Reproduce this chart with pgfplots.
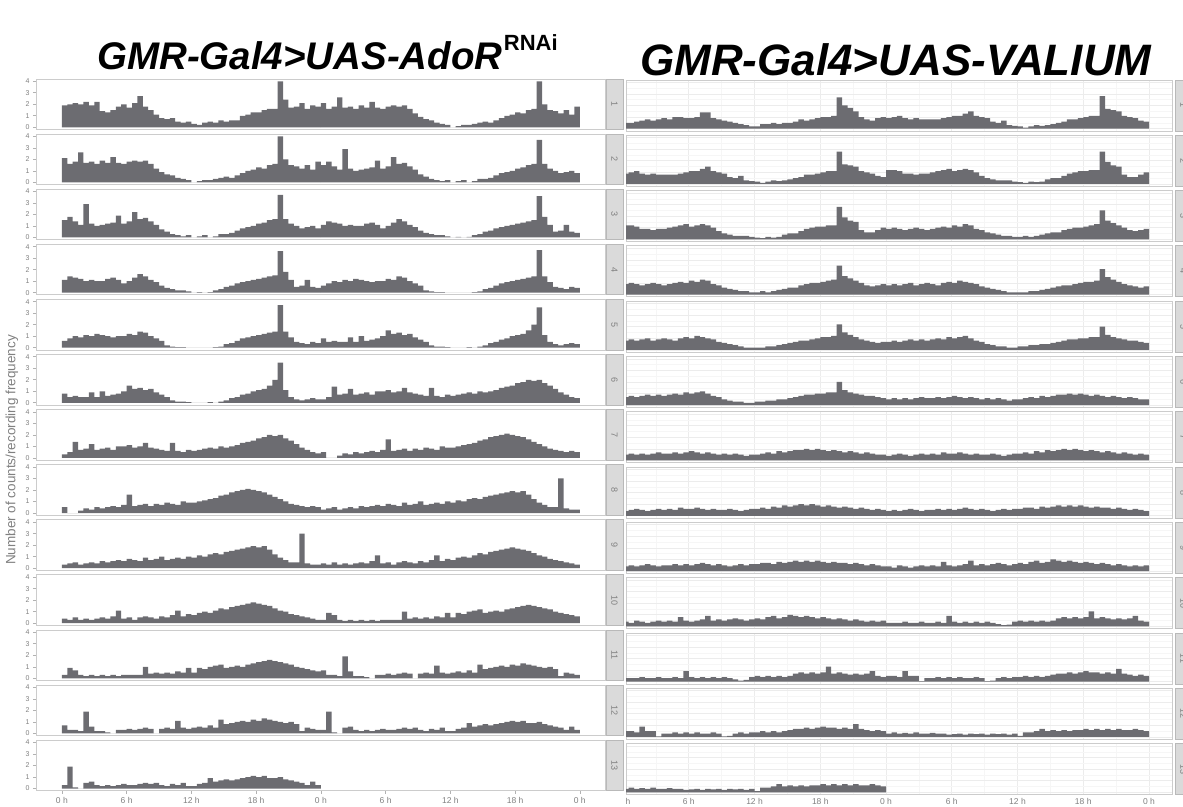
\documentclass[border=0pt]{standalone}
\usepackage{pgfplots}
\usepackage{pgfplotstable}
\pgfplotsset{compat=1.18}
\usepackage{fontspec}
\setmainfont{Liberation Sans}

\definecolor{barcol}{RGB}{108,108,113}
\definecolor{stripfill}{RGB}{218,218,218}
\definecolor{stripline}{RGB}{185,185,185}
\definecolor{labgray}{RGB}{128,128,128}

% one row per day, 30-min bins (last entry closes the day at 24 h)
\pgfplotstableread[header=false]{
t 0 0.5 1 1.5 2 2.5 3 3.5 4 4.5 5 5.5 6 6.5 7 7.5 8 8.5 9 9.5 10 10.5 11 11.5 12 12.5 13 13.5 14 14.5 15 15.5 16 16.5 17 17.5 18 18.5 19 19.5 20 20.5 21 21.5 22 22.5 23 23.5 24
u 24 24.5 25 25.5 26 26.5 27 27.5 28 28.5 29 29.5 30 30.5 31 31.5 32 32.5 33 33.5 34 34.5 35 35.5 36 36.5 37 37.5 38 38.5 39 39.5 40 40.5 41 41.5 42 42.5 43 43.5 44 44.5 45 45.5 46 46.5 47 47.5 48
d1 1.9 2.0 2.1 2.0 2.2 1.9 2.2 1.4 1.3 1.5 1.8 2.0 1.7 2.1 2.7 1.8 1.5 1.1 0.8 0.7 0.8 0.5 0.4 0.5 0.3 0.2 0.4 0.5 0.4 0.6 0.5 0.6 0.6 1.0 1.1 1.3 1.3 1.5 1.6 1.6 4.0 2.4 1.7 1.8 2.1 1.6 1.9 1.8 0
d2 2.1 1.6 1.8 2.6 1.7 1.8 1.6 1.9 1.7 2.2 1.7 1.6 1.8 1.9 1.8 1.9 1.6 1.2 0.9 0.7 0.6 0.4 0.3 0.2 0 0.1 0.2 0.2 0.3 0.4 0.5 0.4 0.6 0.8 1.0 1.1 1.3 1.2 1.5 1.6 4.0 2.0 1.5 1.4 1.2 1.5 1.1 1.8 0
d3 1.5 1.8 1.4 1.1 2.9 1.2 1.0 1.1 1.2 1.3 1.9 1.2 1.4 2.2 1.6 1.7 1.4 1.1 0.7 0.5 0.3 0.2 0.1 0.2 0 0.1 0.2 0 0.1 0.3 0.3 0.4 0.6 0.8 0.9 1.0 1.2 1.3 1.5 1.6 3.7 1.6 1.2 1.0 0.8 0.9 1.0 0.8 0
d4 1.1 1.4 1.3 1.2 1.0 1.1 1.0 1.0 1.2 1.3 1.1 0.8 1.0 1.3 1.6 1.4 1.1 0.9 0.6 0.4 0.3 0.2 0.2 0.1 0 0.05 0 0.05 0.2 0.3 0.5 0.6 0.8 0.9 1.0 1.1 1.2 1.3 1.4 1.5 3.6 1.8 1.1 0.5 0.6 1.1 0.5 0.4 0
d5 0.6 0.8 1.0 0.9 1.1 1.0 1.2 1.1 1.0 0.9 1.0 1.0 1.2 1.1 1.4 1.3 1.0 0.8 0.6 0.2 0.1 0.05 0.05 0 0 0 0 0 0.05 0.1 0.3 0.4 0.6 0.8 0.9 1.0 1.1 1.2 1.3 1.4 3.7 1.4 0.9 0.5 0.4 0.3 0.5 0.4 0
d6 0.8 0.5 0.6 0.5 0.5 0.9 0.5 1.0 0.6 0.7 0.8 1.0 1.5 1.2 1.3 1.1 1.2 0.9 0.7 0.5 0.2 0.1 0.1 0.05 0 0 0 0.05 0 0.1 0.2 0.4 0.5 0.7 0.8 1.0 1.1 1.2 1.5 2.0 3.5 1.1 0.5 0.3 0.2 0.3 0.4 0.3 0
d7 0.3 0.5 1.4 0.7 0.8 1.2 0.7 0.8 0.9 0.7 1.0 1.0 1.1 0.9 1.0 1.3 0.9 0.8 0.7 0.6 1.3 0.6 0.5 0.7 0.6 0.7 0.8 0.9 0.8 1.0 0.9 1.0 1.1 1.3 1.4 1.5 1.7 1.8 2.0 1.9 2.0 1.7 1.5 1.2 0.9 0.7 0.5 0.4 0
d8 0.5 0 0 0.2 0.4 0.3 0.5 0.4 0.5 0.6 0.5 0.7 1.6 0.6 0.7 0.8 0.6 0.8 0.7 0.9 0.8 0.7 1.0 0.9 0.9 1.0 1.1 1.2 1.3 1.5 1.6 1.8 1.9 2.0 2.1 2.0 1.9 1.8 1.6 1.4 1.2 1.0 0.8 0.7 0.6 0.5 0.6 0.5 0
d9 0.3 0.4 0.5 0.3 0.4 0.5 0.4 0.6 0.5 0.6 0.7 0.6 0.8 0.7 0.6 0.9 0.7 0.8 1.0 0.7 0.8 0.9 0.8 1.0 0.9 1.1 1.0 1.2 1.3 1.2 1.4 1.5 1.6 1.7 1.8 1.9 1.8 1.9 1.6 1.2 0.9 0.7 0.5 0.5 3.0 0.4 0.3 0.3 0
d10 0.4 0.3 0.5 0.3 0.4 0.3 0.4 0.5 0.4 0.6 1.1 0.4 0.5 0.3 0.5 0.6 0.5 0.4 0.6 0.5 0.7 1.1 0.6 0.8 0.7 0.9 1.0 0.9 1.1 1.3 1.2 1.4 1.5 1.6 1.7 1.8 1.7 1.6 1.5 1.3 1.1 1.0 0.8 0.7 0.6 0.5 0.4 0.3 0
d11 0.3 0.9 0.7 0.3 0.2 0.3 0.2 0.3 0.2 0.3 0.2 0.3 0.3 0.3 0.3 1.0 0.4 0.5 0.4 0.5 0.4 0.6 0.5 0.9 0.5 0.9 0.8 1.0 1.1 1.2 0.9 1.0 1.1 1.0 1.2 1.3 1.4 1.5 1.6 1.5 1.4 1.3 1.2 1.0 0.9 0.8 0.7 0.6 0
d12 0.7 0.3 0.3 0.2 1.9 0.6 0.2 0.2 0.1 0 0.3 0.3 0.4 0.3 0.4 0.5 0.4 0 0.4 0.5 0.4 1.1 0.5 0.4 0.5 0.6 0.5 0.7 0.5 1.2 0.8 0.9 1.0 1.1 1.0 1.2 1.1 1.3 1.2 1.1 1.0 0.9 1.0 0.8 0.2 0.5 0.4 0.3 0
d13 0.3 1.9 0.1 0 0.5 0.6 0.3 0.2 0.3 0.2 0.3 0.4 0.3 0.3 0.4 0.5 0.4 0.5 0.3 0.2 0.4 0.3 0.5 0.2 0.2 0.4 0.5 0.9 0.6 0.7 0.8 0.7 0.8 0.9 1.0 1.1 1.0 1.1 0.9 0.9 1.0 0.8 0.7 0.6 0.5 0.3 0.6 0.3 0
}\adorraw
\pgfplotstabletranspose[colnames from=0]\ador\adorraw

\pgfplotstableread[header=false]{
t 0 0.5 1 1.5 2 2.5 3 3.5 4 4.5 5 5.5 6 6.5 7 7.5 8 8.5 9 9.5 10 10.5 11 11.5 12 12.5 13 13.5 14 14.5 15 15.5 16 16.5 17 17.5 18 18.5 19 19.5 20 20.5 21 21.5 22 22.5 23 23.5 24
u 24 24.5 25 25.5 26 26.5 27 27.5 28 28.5 29 29.5 30 30.5 31 31.5 32 32.5 33 33.5 34 34.5 35 35.5 36 36.5 37 37.5 38 38.5 39 39.5 40 40.5 41 41.5 42 42.5 43 43.5 44 44.5 45 45.5 46 46.5 47 47.5 48
d1 0.5 0.5 0.6 0.7 0.8 0.7 0.8 0.9 0.8 1.0 1.0 0.9 0.9 1.0 1.4 1.4 0.9 0.8 0.7 0.6 0.5 0.4 0.3 0.2 0.2 0.4 0.4 0.5 0.4 0.5 0.5 0.6 0.8 0.7 0.8 0.9 1.0 1.0 1.1 2.7 2.0 1.8 1.5 1.0 0.8 0.7 0.9 1.0 0
d2 0.9 1.0 1.1 0.9 0.8 0.9 0.8 0.8 0.8 0.8 0.9 1.0 1.1 1.1 1.3 1.5 1.1 1.0 0.9 0.6 0.5 0.7 0.3 0.25 0.2 0.1 0.2 0.3 0.25 0.3 0.4 0.5 0.6 0.8 0.8 0.9 1.0 1.1 1.1 2.8 1.7 1.6 1.5 1.1 1.0 0.9 0.7 0.6 0
d3 1.2 1.2 1.1 0.9 0.9 0.8 0.9 0.9 1.0 1.1 1.2 1.3 1.1 1.2 1.3 1.2 1.0 0.7 0.5 0.4 0.3 0.3 0.3 0.2 0.15 0.1 0.2 0.15 0.2 0.4 0.5 0.5 0.7 0.9 1.0 1.1 1.1 1.2 1.2 2.8 1.9 1.6 1.5 0.8 0.6 0.6 0.8 1.0 0
d4 0.9 1.0 0.9 0.8 0.9 1.0 0.9 0.8 0.9 1.0 1.1 1.0 1.2 1.1 1.3 1.2 0.9 0.8 0.6 0.5 0.4 0.3 0.3 0.2 0.2 0.3 0.2 0.3 0.4 0.5 0.6 0.6 0.8 0.9 1.0 1.0 1.1 1.2 1.3 2.5 1.6 1.4 1.2 1.0 0.8 0.7 0.8 0.9 0
d5 0.8 0.9 0.8 0.9 1.0 0.8 0.9 1.0 0.9 0.8 1.0 1.1 1.0 1.2 1.1 1.0 0.9 0.7 0.6 0.5 0.4 0.3 0.2 0.2 0.2 0.2 0.3 0.3 0.4 0.5 0.6 0.7 0.8 0.8 0.9 1.0 1.1 1.1 1.2 2.2 1.5 1.3 1.1 0.9 0.8 0.7 0.6 0.7 0
d6 0.7 0.8 0.7 0.8 0.9 0.8 0.9 0.8 0.9 1.0 0.9 1.1 1.0 1.1 1.2 1.0 0.8 0.7 0.5 0.4 0.3 0.3 0.2 0.2 0.3 0.3 0.4 0.4 0.5 0.5 0.6 0.7 0.8 0.9 0.9 1.0 1.0 1.1 1.1 2.0 1.3 1.1 1.0 0.9 0.8 0.8 0.7 0.6 0
d7 0.5 0.6 0.5 0.6 0.5 0.6 0.7 0.6 0.6 0.7 0.6 0.7 0.8 0.7 0.6 0.7 0.6 0.5 0.6 0.5 0.6 0.5 0.4 0.5 0.5 0.6 0.7 0.6 0.8 0.7 0.8 0.9 0.9 1.0 0.9 1.0 0.9 0.8 0.9 0.8 0.7 0.8 0.7 0.6 0.7 0.6 0.5 0.5 0
d8 0.4 0.5 0.6 0.5 0.4 0.5 0.6 0.5 0.6 0.5 0.7 0.6 0.6 0.7 0.6 0.5 0.6 0.5 0.5 0.6 0.5 0.4 0.5 0.6 0.6 0.7 0.6 0.8 0.7 0.9 0.8 0.9 1.0 0.9 1.0 0.9 0.8 0.9 0.8 0.7 0.8 0.7 0.6 0.7 0.6 0.5 0.6 0.5 0
d9 0.4 0.5 0.4 0.5 0.6 0.5 0.4 0.5 0.5 0.6 0.5 0.6 0.5 0.6 0.7 0.6 0.5 0.6 0.5 0.4 0.5 0.6 0.5 0.6 0.6 0.7 0.7 0.6 0.8 0.7 0.8 0.9 0.8 0.9 0.8 0.9 0.8 0.7 0.8 0.7 0.7 0.6 0.7 0.6 0.5 0.6 0.5 0.4 0
d10 0.4 0.3 0.5 0.4 0.3 0.4 0.5 0.4 0.5 0.4 0.8 0.5 0.4 0.5 0.6 0.9 0.5 0.6 0.5 0.6 0.7 0.6 0.5 0.6 0.7 0.6 0.8 0.9 0.7 0.8 1.0 0.9 0.8 0.9 0.8 0.7 0.8 0.7 0.6 0.7 0.6 0.5 0.6 0.5 0.4 0.5 0.4 0.5 0
d11 0.3 0.3 0.3 0.4 0.3 0.3 0.4 0.3 0.3 0.4 0.3 0.9 0.4 0.3 0.4 0.3 0.4 0.3 0.4 0.3 0.2 0.1 0.15 0.4 0.5 0.4 0.5 0.4 0.5 0.4 0.5 0.7 0.8 0.7 0.8 0.7 0.8 1.3 0.7 0.8 0.7 0.6 0.7 0.6 0.7 0.9 0.5 0.4 0
d12 0.5 0.5 0.4 0.9 0.5 0.5 0.05 0.3 0.3 0.4 0.3 0.4 0.3 0.4 0.3 0.3 0.4 0.3 0.05 0.1 0.3 0.4 0.3 0.4 0.4 0.5 0.4 0.5 0.4 0.5 0.6 0.7 0.7 0.8 0.7 0.8 0.9 0.8 0.8 0.7 0.8 0.7 1.1 0.7 0.6 0.5 0.6 0.5 0
d13 0.3 0.4 0.3 0.35 0.3 0.4 0.3 0.3 0.35 0.3 0.3 0.2 0.25 0.3 0.2 0.3 0.25 0.3 0.2 0.3 0.25 0.3 0.2 0.3 0.1 0.4 0.4 0.5 0.7 0.5 0.6 0.5 0.6 0.5 0.6 0.6 0.7 0.6 0.7 0.6 0.7 0.6 0.7 0.6 0.6 0.7 0.6 0.5 0
}\valraw
\pgfplotstabletranspose[colnames from=0]\valium\valraw

\pgfplotsset{
  barplot/.style={const plot mark left, fill=barcol, draw=none, mark=none},
  actoL/.style={
    scale only axis, width=569.7pt, height=50.6pt,
    xmin=-2.4, xmax=50.4, ymin=-0.2, ymax=4.2,
    xtick={0,6,...,48}, ytick={0,1,2,3,4},
    tick align=outside, tick pos=left,
    major tick length=3pt,
    axis line style={draw=gray!40, line width=0.8pt},
    tick style={draw=gray!60, line width=0.6pt},
    /pgf/number format/assume math mode=true,
    yticklabel style={font=\fontsize{7}{7}\selectfont, text=labgray},
    xticklabel style={font=\fontsize{8.5}{8.5}\selectfont, text=labgray},
  },
  actoR/.style={
    scale only axis, width=546pt, height=51pt,
    xmin=0.27, xmax=50.1, ymin=-0.2, ymax=4.2,
    xtick={0,6,...,48}, minor xtick={3,9,...,45},
    ytick={0,1,2,3,4}, minor ytick={0.5,1.5,2.5,3.5},
    grid=both,
    major grid style={draw=gray!15, line width=0.6pt},
    minor grid style={draw=gray!7, line width=0.4pt},
    major tick length=0pt, minor tick length=0pt,
    yticklabels={},
    axis line style={draw=gray!40, line width=0.8pt},
    /pgf/number format/assume math mode=true,
    xticklabel style={font=\fontsize{8.5}{8.5}\selectfont, text=labgray},
  },
}

\begin{document}
\begin{tikzpicture}[x=1pt,y=1pt]
\useasboundingbox (0,0) rectangle (1183,806);

% titles
\node[anchor=base west, inner sep=0pt, font=\fontsize{38.5}{40}\selectfont\bfseries\itshape]
  (tl) at (97,736) {GMR-Gal4>UAS-AdoR};
\node[anchor=base west, inner sep=0pt, font=\fontsize{22}{24}\selectfont\bfseries]
  at ([xshift=1pt,yshift=19pt]tl.base east) {RNAi};
\node[anchor=base west, inner sep=0pt, font=\fontsize{44}{46}\selectfont\bfseries\itshape]
  at (640,730) {GMR-Gal4>UAS-VALIUM};

% y label
\node[rotate=90, font=\fontsize{13.5}{14}\selectfont, text=labgray] at (12,356)
  {Number of counts/recording frequency};

% left panel: AdoR RNAi, double plotted (row, next day, top of row in pt)
\foreach \rw/\nx/\qa in {1/2/727, 2/3/671.9, 3/4/616.8, 4/5/561.7, 5/6/506.6,
    6/7/451.5, 7/8/396.4, 8/9/341.3, 9/10/286.2, 10/11/231.1, 11/12/176, 12/13/120.9}{
  \begin{axis}[actoL, at={(36pt,\qa pt)}, anchor=north west, xmajorticks=false]
    \addplot[barplot] table[x=t,y=d\rw]{\ador} \closedcycle;
    \addplot[barplot] table[x=u,y=d\nx]{\ador} \closedcycle;
  \end{axis}
}
\begin{axis}[actoL, at={(36pt,65.8pt)}, anchor=north west,
  xticklabels={0 h,6 h,12 h,18 h,0 h,6 h,12 h,18 h,0 h}]
  \addplot[barplot] table[x=t,y=d13]{\ador} \closedcycle;
\end{axis}

% right panel: VALIUM, double plotted
\foreach \rw/\nx/\qb in {1/2/726, 2/3/670.7, 3/4/615.4, 4/5/560.1, 5/6/504.8,
    6/7/449.5, 7/8/394.2, 8/9/338.9, 9/10/283.6, 10/11/228.3, 11/12/173, 12/13/117.7}{
  \begin{axis}[actoR, at={(626pt,\qb pt)}, anchor=north west, xticklabels={}]
    \addplot[barplot] table[x=t,y=d\rw]{\valium} \closedcycle;
    \addplot[barplot] table[x=u,y=d\nx]{\valium} \closedcycle;
  \end{axis}
}
\begin{axis}[actoR, at={(626pt,62.4pt)}, anchor=north west,
  xtick={6,12,...,48}, xticklabels={6 h,12 h,18 h,0 h,6 h,12 h,18 h,0 h}]
  \addplot[barplot] table[x=t,y=d13]{\valium} \closedcycle;
\end{axis}
\node[font=\fontsize{8.5}{8.5}\selectfont, text=labgray] at (628,5) {h};

% facet strips
\begin{scope}
\clip (0,0) rectangle (1183,806);
\foreach \rw/\qa/\qb in {1/727/726, 2/671.9/670.7, 3/616.8/615.4, 4/561.7/560.1,
    5/506.6/504.8, 6/451.5/449.5, 7/396.4/394.2, 8/341.3/338.9, 9/286.2/283.6,
    10/231.1/228.3, 11/176/173, 12/120.9/117.7, 13/65.8/62.4}{
  \draw[fill=stripfill, draw=stripline, line width=0.8pt] (606,\qa) rectangle (623,\qa-50.6);
  \node[rotate=-90, font=\fontsize{9}{9}\selectfont, text=labgray] at (614.5,\qa-25.3) {\rw};
  \draw[fill=stripfill, draw=stripline, line width=0.8pt] (1175,\qb) rectangle (1192,\qb-51);
  \node[rotate=-90, font=\fontsize{9}{9}\selectfont, text=labgray] at (1183.5,\qb-25.5) {\rw};
}
\end{scope}
\end{tikzpicture}
\end{document}
